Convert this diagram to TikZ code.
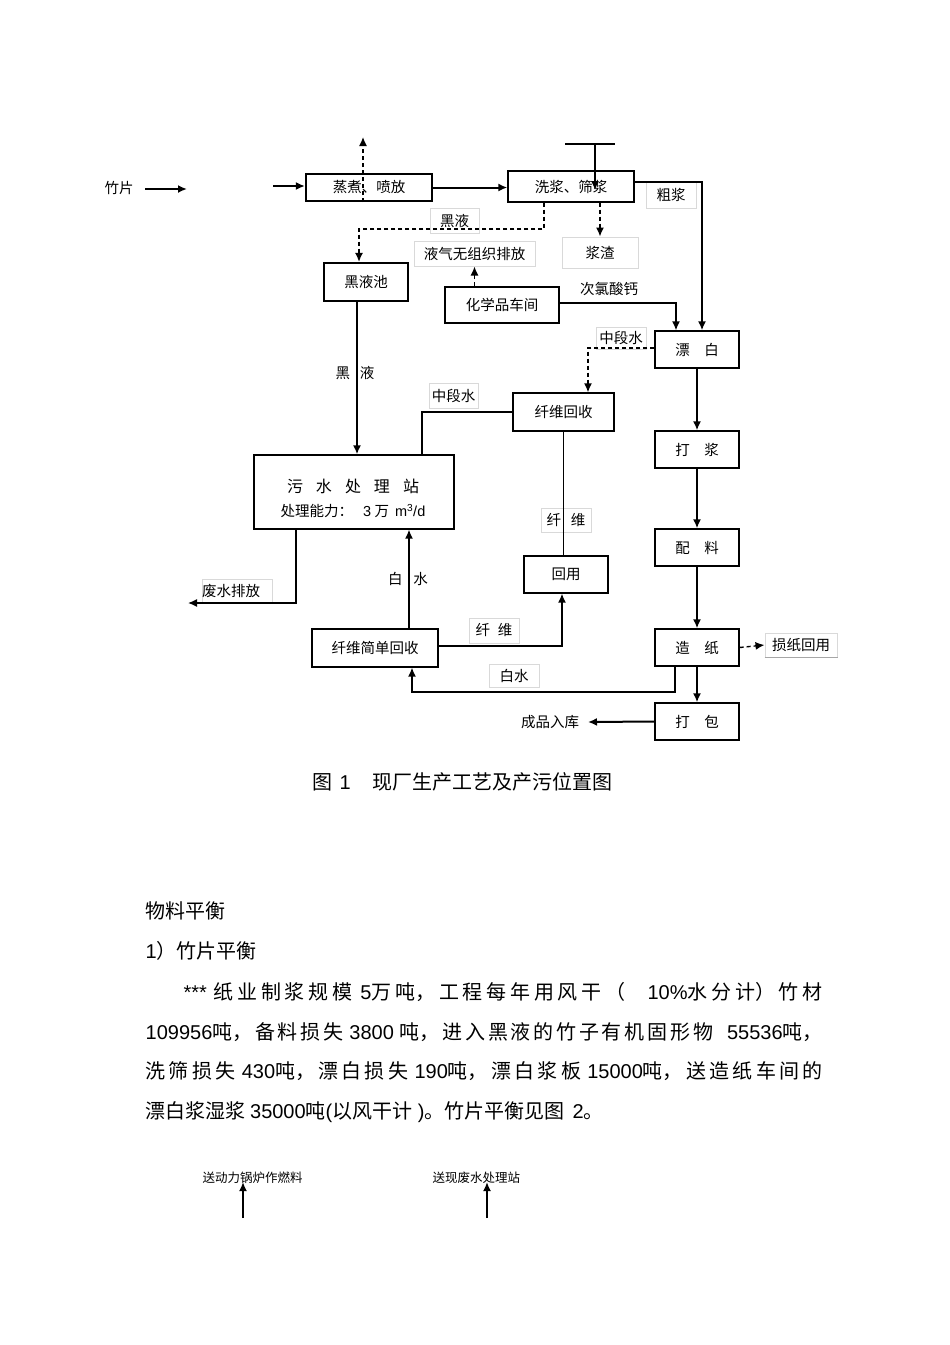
\documentclass[tikz,border=0pt]{standalone}
\usepackage{fontspec}
\setmainfont{Noto Sans CJK SC}
\newfontfamily\latin{Liberation Sans}
\usetikzlibrary{arrows.meta}

\tikzset{every picture/.style={line width=1.3pt}}
\tikzset{
  proc/.style={draw, line width=1.3pt, inner sep=0pt, minimum width=84pt, minimum height=37pt, font=\fontsize{14.5}{17}\selectfont},
  procbold/.style={proc, line width=2.2pt},
  tag/.style={draw=gray!30, line width=1pt, inner sep=0pt, font=\fontsize{14.5}{17}\selectfont},
  lbl/.style={inner sep=0pt, font=\fontsize{14.5}{17}\selectfont},
  flow/.style={line width=2pt, -{Latex[length=9pt,width=8pt]}},
  thinflow/.style={line width=1.4pt, -{Latex[length=9pt,width=8pt]}},
  leak/.style={line width=1.4pt, dash pattern=on 4pt off 3pt, -{Latex[length=9pt,width=8pt]}},
  body/.style={anchor=west, inner sep=0pt, font=\fontsize{20}{24}\selectfont},
}

\begin{document}
\begin{tikzpicture}[x=1pt,y=1pt,yscale=-1,xscale=1]
\useasboundingbox (0,0) rectangle (950,1345);

%Shape: Rectangle
\node[procbold, minimum width=126pt, minimum height=27pt] (zhengzhu) at (369,187.5) {蒸煮、喷放};
%Shape: Rectangle
\node[proc, minimum width=126pt, minimum height=31pt] (xijiang) at (571,186.5) {洗浆、筛浆};
%Shape: Rectangle
\node[tag, minimum width=76pt, minimum height=31pt] (jiangzha) at (600,252.5) {浆渣};
%Shape: Rectangle
\node[tag, minimum width=49pt, minimum height=25pt] (heiye) at (454.5,220.5) {黑液};
%Shape: Rectangle
\node[tag, minimum width=121pt, minimum height=25pt] (yeqi) at (474.5,253.5) {液气无组织排放};
%Shape: Rectangle
\node[procbold, minimum width=84pt, minimum height=38pt] (heiyechi) at (366,282) {黑液池};
%Shape: Rectangle
\node[proc, minimum width=114pt, minimum height=36pt] (huaxue) at (502,305) {化学品车间};
%Shape: Rectangle
\node[tag, minimum width=50pt, minimum height=26pt] (cujiang) at (671,195) {粗浆};
%Shape: Rectangle
\node[proc] (piaobai) at (697,349.5) {漂　白};
%Shape: Rectangle
\node[tag, minimum width=50pt, minimum height=22pt] (zdsa) at (621,338) {中段水};
%Shape: Rectangle
\node[proc, minimum width=101pt, minimum height=38pt] (xwhs) at (563.5,412) {纤维回收};
%Shape: Rectangle
\node[tag, minimum width=49pt, minimum height=25pt] (zdsb) at (453.5,395.5) {中段水};
%Shape: Rectangle
\node[proc, minimum width=200pt, minimum height=74pt] (wushui) at (354,492) {};
%Shape: Rectangle
\node[tag, minimum width=50pt, minimum height=24pt] (xwa) at (566,520) {纤\hspace{10pt}维};
%Shape: Rectangle
\node[proc] (dajiang) at (697,449.5) {打　浆};
%Shape: Rectangle
\node[proc] (peiliao) at (697,547.5) {配　料};
%Shape: Rectangle
\node[proc] (huiyong) at (566,574.5) {回用};
%Shape: Rectangle
\node[tag, minimum height=24pt, text width=70pt, align=left] (feishui) at (237,591) {废水排放};
%Shape: Rectangle
\node[proc, minimum width=126pt, minimum height=38pt] (xwjd) at (375,648) {纤维简单回收};
%Shape: Rectangle
\node[tag, minimum width=50pt, minimum height=25pt] (xwb) at (494,630.5) {纤\hspace{8pt}维};
%Shape: Rectangle
\node[tag, minimum width=50pt, minimum height=23pt] (baishui) at (514,675.5) {白水};
%Shape: Rectangle
\node[proc] (zaozhi) at (697,647.5) {造　纸};
%Shape: Rectangle
\node[tag, minimum width=72pt, minimum height=24pt] (sunzhi) at (801,645) {损纸回用};
\draw[gray!70, line width=1.2pt] (sunzhi.south west) -- (sunzhi.south east);
%Shape: Rectangle
\node[proc] (dabao) at (697,721.5) {打　包};

% Text Node
\node[lbl] (zhupian) at (119,188) {竹片};
% Text Node
\node[lbl] (cilv) at (609,289) {次氯酸钙};
% Text Node
\node[lbl] (heiyeb) at (355,373) {黑\hspace{10pt}液};
% Text Node
\node[lbl] (baishuib) at (408,579) {白\hspace{11pt}水};
% Text Node
\node[lbl] (chengpin) at (550,722) {成品入库};
% Text Node
\node[inner sep=0pt, font=\fontsize{16}{18}\selectfont] (wstitle) at (353,486) {污\hspace{13pt}水\hspace{13pt}处\hspace{13pt}理\hspace{13pt}站};
% Text Node
\node[lbl] (wscap) at (353,511) {处理能力：\hspace{10pt}{\latin 3} 万\hspace{6pt}{\latin m\textsuperscript{3}/d}};

% free ends
\coordinate (inA) at (145,189);
\coordinate (inB) at (187,189);
\coordinate (inC) at (273,186);
\coordinate (vent) at (363,137);
\coordinate (feedL) at (565,144);
\coordinate (feedR) at (615,144);
\coordinate (feed) at (595,144);
\coordinate (feedend) at (595,190);
\coordinate (bl) at (544,229);
\coordinate (blk) at (359,229);
\coordinate (cl) at (676,303);
\coordinate (cu) at (702,182);
\coordinate (mw) at (588,348);
\coordinate (mx) at (422,412);
\coordinate (hx) at (357,300);
\coordinate (bw) at (675,692);
\coordinate (bwl) at (412,692);
\coordinate (fr) at (562,646);
\coordinate (wx) at (409,600);
\coordinate (dr) at (296,603);
\coordinate (drain) at (188,603);
\coordinate (store) at (588,722);

%Straight Lines
\draw[flow] (inA) -- (inB);
\draw[flow] (inC) -- (inC -| zhengzhu.west);
\draw[leak] (vent |- zhengzhu.south) -- (vent);
\draw[flow] (zhengzhu.east) -- (zhengzhu.east -| xijiang.west);
\draw (feedL) -- (feedR);
\draw[thinflow] (feed) -- (feedend);
\draw[leak] (xijiang.south -| jiangzha.north) -- (jiangzha.north);
\draw[leak] (bl |- xijiang.south) -- (bl) -- (blk) -- (blk |- heiyechi.north);
\draw[leak] (yeqi.south |- huaxue.north) -- (yeqi.south);
\draw[thinflow] (huaxue.east |- cl) -- (cl) -- (cl |- piaobai.north);
\draw[flow] (xijiang.east |- cu) -- (cu) -- (cu |- piaobai.north);
\draw[leak] (piaobai.west |- mw) -- (mw) -- (mw |- xwhs.north);
\draw (xwhs.west) -- (mx) -- (mx |- wushui.north);
\draw[flow] (hx |- heiyechi.south) -- (hx |- wushui.north);
\draw (xwhs.south) -- (xwhs.south |- huiyong.north);
\draw[flow] (piaobai.south) -- (dajiang.north);
\draw[flow] (dajiang.south) -- (peiliao.north);
\draw[flow] (peiliao.south) -- (zaozhi.north);
\draw[flow] (zaozhi.south) -- (dabao.north);
\draw[leak] (zaozhi.east) -- (sunzhi.west);
\draw[flow] (dabao.west) -- (store);
\draw[thinflow] (bw |- zaozhi.south) -- (bw) -- (bwl) -- (bwl |- xwjd.south);
\draw[thinflow] (xwjd.east |- fr) -- (fr) -- (fr |- huiyong.south);
\draw[thinflow] (wx |- xwjd.north) -- (wx |- wushui.south);
\draw[thinflow] (dr |- wushui.south) -- (dr) -- (drain);

% Text Node
\node[body] (caption) at (312,782) {图\hspace{7pt}{\latin 1}\hspace{22pt}现厂生产工艺及产污位置图};
% Text Node
\node[body] (headA) at (145,911) {物料平衡};
% Text Node
\node[body] (headB) at (145,951) {{\latin 1}）竹片平衡};
% Text Node
\node[anchor=north west, inner sep=0pt, text width=677pt, align=justify, font=\fontsize{20}{39.5}\selectfont] (para) at (145,982)
  {\XeTeXlinebreaklocale "zh"\XeTeXlinebreakskip=0pt plus 4pt\tolerance=9999\hspace*{38pt}{\latin ***} 纸业制浆规模\hspace{8pt}{\latin 5}万吨，工程每年用风干（\hspace{22pt}{\latin 10\%}水分计）竹材\linebreak
  {\latin 109956}吨，备料损失 {\latin 3800} 吨，进入黑液的竹子有机固形物\hspace{14pt}{\latin 55536}吨，\linebreak
  洗筛损失 {\latin 430}吨，漂白损失 {\latin 190}吨，漂白浆板 {\latin 15000}吨，送造纸车间的\linebreak
  漂白浆湿浆 {\latin 35000}吨{\latin (}以风干计{\latin\ )}。竹片平衡见图\hspace{8pt}{\latin 2}。\par};

% Text Node
\node[anchor=west, inner sep=0pt, font=\fontsize{12.5}{15}\selectfont] (boiler) at (202,1178) {送动力锅炉作燃料};
% Text Node
\node[anchor=west, inner sep=0pt, font=\fontsize{12.5}{15}\selectfont] (plant) at (432,1178) {送现废水处理站};
\coordinate (boilerfoot) at (243,1218);
\coordinate (boilertip) at (243,1182);
\coordinate (plantfoot) at (487,1218);
\coordinate (planttip) at (487,1182);
\draw[flow] (boilerfoot) -- (boilertip);
\draw[flow] (plantfoot) -- (planttip);

\end{tikzpicture}
\end{document}
